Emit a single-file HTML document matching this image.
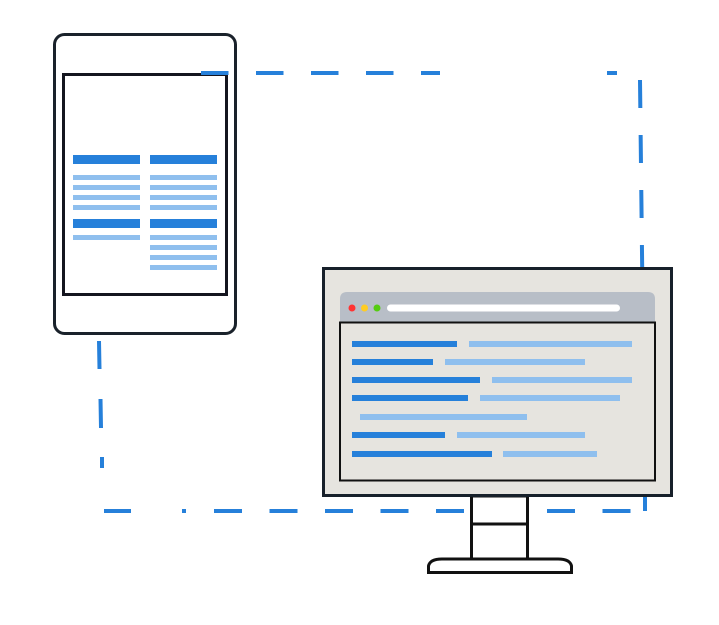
<!DOCTYPE html>
<html><head><style>html,body{margin:0;padding:0;background:#fff}svg{display:block}</style></head>
<body>
<svg width="719" height="625" viewBox="0 0 719 625" xmlns="http://www.w3.org/2000/svg">
<g stroke="#2680da" stroke-width="4" fill="none">
  <path d="M640 80 L645 511" stroke-dasharray="28 27"/>
  <path d="M104 511 H131 M182 511 H186"/>
  <path d="M214 511 H645" stroke-dasharray="28 27.5"/>
  <path d="M99 341 L99.5 369 M100.5 399 L101 428 M102 457 L102 468"/>
</g>
<rect x="54.5" y="34.5" width="181" height="299" rx="10" fill="#fff" stroke="#1a222b" stroke-width="3"/>
<rect x="63.5" y="74.5" width="163" height="220" fill="#fff" stroke="#14151f" stroke-width="3"/>
<g stroke="#2680da" stroke-width="4" fill="none">
  <path d="M201 73 H440" stroke-dasharray="27.5 27.5"/>
  <path d="M607 73 H617"/>
</g>
<g fill="#2680da">
  <rect x="73" y="155" width="67" height="9"/><rect x="150" y="155" width="67" height="9"/>
  <rect x="73" y="219" width="67" height="9"/><rect x="150" y="219" width="67" height="9"/>
</g>
<g fill="#8fbfee">
  <rect x="73" y="175" width="67" height="5"/><rect x="73" y="185" width="67" height="5"/><rect x="73" y="195" width="67" height="5"/><rect x="73" y="205" width="67" height="5"/>
  <rect x="150" y="175" width="67" height="5"/><rect x="150" y="185" width="67" height="5"/><rect x="150" y="195" width="67" height="5"/><rect x="150" y="205" width="67" height="5"/>
  <rect x="73" y="235" width="67" height="5"/>
  <rect x="150" y="235" width="67" height="5"/><rect x="150" y="245" width="67" height="5"/><rect x="150" y="255" width="67" height="5"/><rect x="150" y="265" width="67" height="5"/>
</g>
<rect x="471.5" y="496" width="56" height="66" fill="#fff" stroke="#111" stroke-width="3"/>
<line x1="471" y1="524" x2="528" y2="524" stroke="#111" stroke-width="3"/>
<path d="M428.5 572.5 L428.5 566 Q430 559 442 559 H558 Q570 559 571.5 566 L571.5 572.5 Z" fill="#fff" stroke="#111" stroke-width="3"/>
<rect x="323.5" y="268.5" width="348" height="227" fill="#e6e4df" stroke="#17202a" stroke-width="3"/>
<path d="M340 322 V299 Q340 292 347 292 H648 Q655 292 655 299 V322 Z" fill="#b8bec7"/>
<circle cx="352" cy="308" r="3.5" fill="#f33"/><circle cx="364.5" cy="308" r="3.5" fill="#fc2"/><circle cx="377" cy="308" r="3.5" fill="#5c1"/>
<rect x="387" y="304.5" width="233" height="7" rx="3.5" fill="#fff"/>
<rect x="340" y="322.5" width="315" height="158" fill="#e6e4df" stroke="#111" stroke-width="2"/>
<g fill="#2680da">
  <rect x="352" y="341" width="105" height="6"/><rect x="352" y="359" width="81" height="6"/><rect x="352" y="377" width="128" height="6"/><rect x="352" y="395" width="116" height="6"/><rect x="352" y="432" width="93" height="6"/><rect x="352" y="451" width="140" height="6"/>
</g>
<g fill="#8fbfee">
  <rect x="469" y="341" width="163" height="6"/><rect x="445" y="359" width="140" height="6"/><rect x="492" y="377" width="140" height="6"/><rect x="480" y="395" width="140" height="6"/><rect x="360" y="414" width="167" height="6"/><rect x="457" y="432" width="128" height="6"/><rect x="503" y="451" width="94" height="6"/>
</g>
<path d="M645 497 V511" stroke="#2680da" stroke-width="4"/>
</svg>
</body></html>
